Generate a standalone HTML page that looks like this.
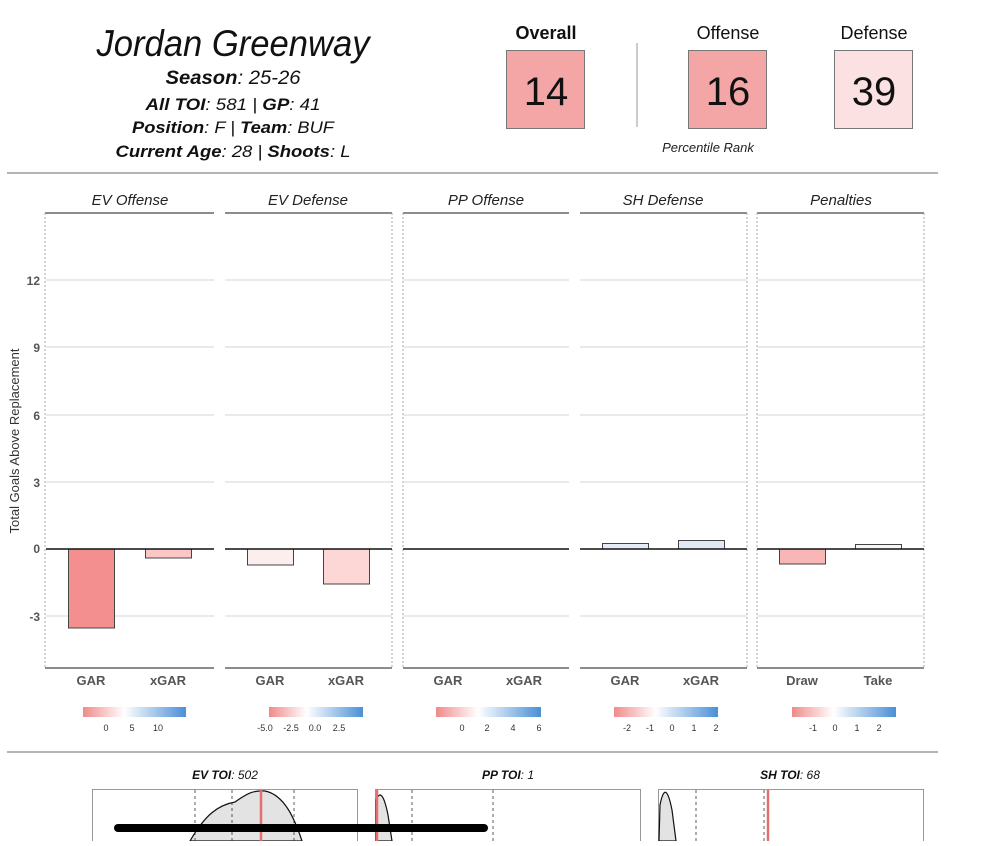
<!DOCTYPE html>
<html><head><meta charset="utf-8"><style>
html,body{margin:0;padding:0;background:#fff;}
body{width:1000px;height:841px;overflow:hidden;}
</style></head><body>
<svg width="1000" height="841" xmlns="http://www.w3.org/2000/svg" font-family="Liberation Sans, sans-serif">
<rect width="1000" height="841" fill="#fff"/>
<text x="233" y="56" font-size="37" font-style="italic" text-anchor="middle" fill="#111" textLength="273" lengthAdjust="spacingAndGlyphs">Jordan Greenway</text>
<text x="233" y="84" font-size="19" text-anchor="middle" font-style="italic" fill="#111" textLength="135" lengthAdjust="spacingAndGlyphs"><tspan font-weight="bold">Season</tspan>: 25-26</text>
<text x="233" y="110" font-size="17" text-anchor="middle" font-style="italic" fill="#111" textLength="175" lengthAdjust="spacingAndGlyphs"><tspan font-weight="bold">All TOI</tspan>: 581 | <tspan font-weight="bold">GP</tspan>: 41</text>
<text x="233" y="133" font-size="17" text-anchor="middle" font-style="italic" fill="#111" textLength="202" lengthAdjust="spacingAndGlyphs"><tspan font-weight="bold">Position</tspan>: F | <tspan font-weight="bold">Team</tspan>: BUF</text>
<text x="233" y="157" font-size="17" text-anchor="middle" font-style="italic" fill="#111" textLength="235" lengthAdjust="spacingAndGlyphs"><tspan font-weight="bold">Current Age</tspan>: 28 | <tspan font-weight="bold">Shoots</tspan>: L</text>

<text x="546" y="39" font-size="18" font-weight="bold" text-anchor="middle" fill="#111">Overall</text>
<text x="728" y="39" font-size="18" text-anchor="middle" fill="#111">Offense</text>
<text x="874" y="39" font-size="18" text-anchor="middle" fill="#111">Defense</text>
<rect x="506.5" y="50.5" width="78" height="78" fill="#f4a6a6" stroke="#777"/>
<rect x="688.5" y="50.5" width="78" height="78" fill="#f4a6a6" stroke="#777"/>
<rect x="834.5" y="50.5" width="78" height="78" fill="#fbe1e2" stroke="#777"/>
<text x="546" y="105" font-size="40" text-anchor="middle" fill="#111">14</text>
<text x="728" y="105" font-size="40" text-anchor="middle" fill="#111">16</text>
<text x="874" y="105" font-size="40" text-anchor="middle" fill="#111">39</text>
<line x1="637" y1="43" x2="637" y2="127" stroke="#bbb" stroke-width="1.5"/>
<text x="708" y="152" font-size="13" font-style="italic" text-anchor="middle" fill="#222">Percentile Rank</text>

<line x1="7" y1="173" x2="938" y2="173" stroke="#888" stroke-width="1.2"/>

<g font-size="15" font-style="italic" text-anchor="middle" fill="#222">
<text x="130" y="205">EV Offense</text>
<text x="308" y="205">EV Defense</text>
<text x="486" y="205">PP Offense</text>
<text x="663" y="205">SH Defense</text>
<text x="841" y="205">Penalties</text>
</g>
<g stroke="#666" stroke-width="1.5">
<line x1="45" y1="213" x2="214" y2="213"/><line x1="225" y1="213" x2="392" y2="213"/>
<line x1="403" y1="213" x2="569" y2="213"/><line x1="580" y1="213" x2="747" y2="213"/>
<line x1="757" y1="213" x2="924" y2="213"/>
<line x1="45" y1="668" x2="214" y2="668"/><line x1="225" y1="668" x2="392" y2="668"/>
<line x1="403" y1="668" x2="569" y2="668"/><line x1="580" y1="668" x2="747" y2="668"/>
<line x1="757" y1="668" x2="924" y2="668"/>
</g>
<g stroke="#aaa" stroke-dasharray="2,2" stroke-width="1">
<line x1="45" y1="213" x2="45" y2="668"/><line x1="392" y1="213" x2="392" y2="668"/>
<line x1="403" y1="213" x2="403" y2="668"/><line x1="747" y1="213" x2="747" y2="668"/>
<line x1="757" y1="213" x2="757" y2="668"/><line x1="924" y1="213" x2="924" y2="668"/>
</g>
<g stroke="#d4d4d4" stroke-width="1">
<path d="M46 280H214M225 280H392M403 280H569M580 280H747M757 280H924"/>
<path d="M46 347H214M225 347H392M403 347H569M580 347H747M757 347H924"/>
<path d="M46 415H214M225 415H392M403 415H569M580 415H747M757 415H924"/>
<path d="M46 482H214M225 482H392M403 482H569M580 482H747M757 482H924"/>
<path d="M46 616H214M225 616H392M403 616H569M580 616H747M757 616H924"/>
</g>
<g font-size="12" font-weight="bold" fill="#555" text-anchor="end">
<text x="40" y="285">12</text><text x="40" y="352">9</text><text x="40" y="420">6</text>
<text x="40" y="487">3</text><text x="40" y="553">0</text><text x="40" y="621">-3</text>
</g>
<text transform="translate(19,441) rotate(-90)" font-size="13" text-anchor="middle" fill="#333">Total Goals Above Replacement</text>
<g stroke="#444" stroke-width="1">
<rect x="68.5" y="549" width="46" height="79" fill="#f48f8f"/>
<rect x="145.5" y="549" width="46" height="9" fill="#fbc6c6"/>
<rect x="247.5" y="549" width="46" height="16" fill="#fdeeee"/>
<rect x="323.5" y="549" width="46" height="35" fill="#fdd6d6"/>
<rect x="602.5" y="543.5" width="46" height="5.5" fill="#e6ecf7"/>
<rect x="678.5" y="540.5" width="46" height="8.5" fill="#e0e8f6"/>
<rect x="779.5" y="549" width="46" height="15" fill="#f8b6b6"/>
<rect x="855.5" y="544.5" width="46" height="4.5" fill="#f5f7fb"/>
</g>
<g stroke="#111" stroke-width="1.5">
<path d="M46 549H214M225 549H392M403 549H569M580 549H747M757 549H924"/>
</g>
<g font-size="13" font-weight="bold" fill="#555" text-anchor="middle">
<text x="91" y="685">GAR</text><text x="168" y="685">xGAR</text>
<text x="270" y="685">GAR</text><text x="346" y="685">xGAR</text>
<text x="448" y="685">GAR</text><text x="524" y="685">xGAR</text>
<text x="625" y="685">GAR</text><text x="701" y="685">xGAR</text>
<text x="802" y="685">Draw</text><text x="878" y="685">Take</text>
</g>
<defs>
<linearGradient id="g" x1="0" x2="1"><stop offset="0" stop-color="#f08a8a"/><stop offset="0.4" stop-color="#fff"/><stop offset="1" stop-color="#4a8fd6"/></linearGradient>
</defs>
<g>
<rect x="83" y="707" width="103" height="10" fill="url(#g)"/>
<rect x="269" y="707" width="94" height="10" fill="url(#g)"/>
<rect x="436" y="707" width="105" height="10" fill="url(#g)"/>
<rect x="614" y="707" width="104" height="10" fill="url(#g)"/>
<rect x="792" y="707" width="104" height="10" fill="url(#g)"/>
</g>
<g font-size="9" fill="#333" text-anchor="middle">
<text x="106" y="731">0</text><text x="132" y="731">5</text><text x="158" y="731">10</text>
<text x="265" y="731">-5.0</text><text x="291" y="731">-2.5</text><text x="315" y="731">0.0</text><text x="339" y="731">2.5</text>
<text x="462" y="731">0</text><text x="487" y="731">2</text><text x="513" y="731">4</text><text x="539" y="731">6</text>
<text x="627" y="731">-2</text><text x="650" y="731">-1</text><text x="672" y="731">0</text><text x="694" y="731">1</text><text x="716" y="731">2</text>
<text x="813" y="731">-1</text><text x="835" y="731">0</text><text x="857" y="731">1</text><text x="879" y="731">2</text>
</g>
<line x1="7" y1="752" x2="938" y2="752" stroke="#888" stroke-width="1.2"/>
<g font-size="12" font-style="italic" text-anchor="middle" fill="#111">
<text x="225" y="779"><tspan font-weight="bold">EV TOI</tspan>: 502</text>
<text x="508" y="779"><tspan font-weight="bold">PP TOI</tspan>: 1</text>
<text x="790" y="779"><tspan font-weight="bold">SH TOI</tspan>: 68</text>
</g>
<g fill="none" stroke="#999" stroke-width="1">
<rect x="92.5" y="789.5" width="265" height="60"/>
<rect x="375.5" y="789.5" width="265" height="60"/>
<rect x="658.5" y="789.5" width="265" height="60"/>
</g>
<path d="M190 841 C205 815 218 805 235 802 C245 795 252 790 265 791 C285 795 295 820 302 841Z" fill="#e3e3e3" stroke="#111" stroke-width="1.2"/>
<path d="M376 841 L376 800 C380 790 384 795 388 815 L392 841Z" fill="#e3e3e3" stroke="#111" stroke-width="1.2"/>
<path d="M659 841 L660 805 C664 785 668 790 672 810 L676 841Z" fill="#e3e3e3" stroke="#111" stroke-width="1.2"/>
<g stroke="#333" stroke-dasharray="3,3" stroke-width="0.8">
<line x1="195" y1="790" x2="195" y2="841"/><line x1="232" y1="790" x2="232" y2="841"/><line x1="294" y1="790" x2="294" y2="841"/>
<line x1="412" y1="790" x2="412" y2="841"/><line x1="493" y1="790" x2="493" y2="841"/>
<line x1="696" y1="790" x2="696" y2="841"/><line x1="764" y1="790" x2="764" y2="841"/>
</g>
<g stroke="#e46f6f" stroke-width="2.5">
<line x1="261" y1="790" x2="261" y2="841"/><line x1="377" y1="790" x2="377" y2="841"/><line x1="768" y1="790" x2="768" y2="841"/>
</g>
<line x1="118" y1="828" x2="484" y2="828" stroke="#000" stroke-width="8" stroke-linecap="round"/>
</svg>
</body></html>
